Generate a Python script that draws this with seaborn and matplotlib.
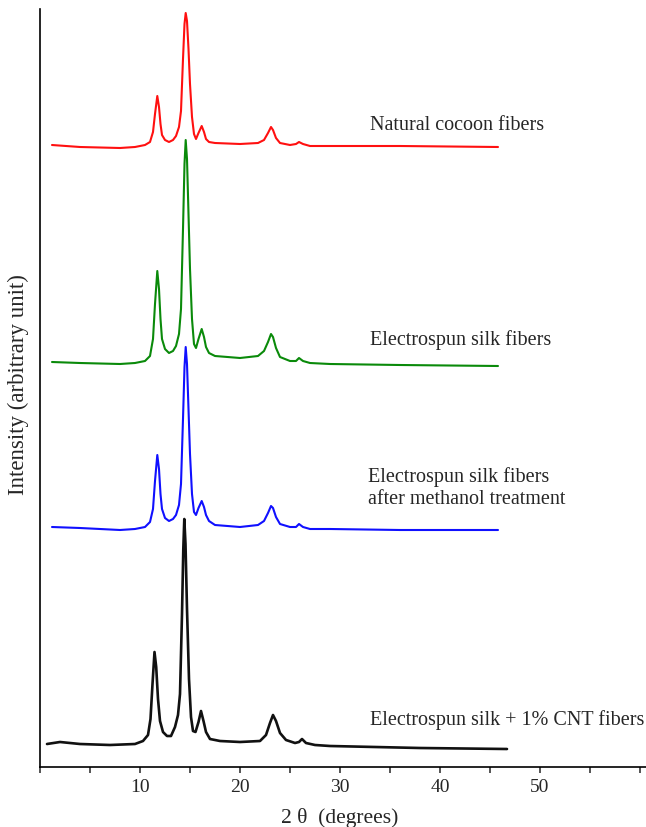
import numpy as np
import pandas as pd
import matplotlib
matplotlib.use("Agg")
import matplotlib.pyplot as plt
from matplotlib.ticker import MultipleLocator
import seaborn as sns

# 2 theta (degrees) and intensities (arbitrary units, traces offset)
silk_x = [1.2, 4.0, 8.0, 9.5, 10.5, 11.0, 11.3, 11.5, 11.73, 11.9,
          12.05, 12.2, 12.5, 12.9, 13.3, 13.6, 13.9, 14.1, 14.3, 14.45,
          14.57, 14.7, 14.85, 15.0, 15.2, 15.4, 15.6, 15.85, 16.17, 16.4,
          16.6, 16.9, 17.5, 20.0, 21.8, 22.4, 22.8, 23.1, 23.3, 23.6,
          24.0, 25.0, 25.6, 25.9, 26.3, 27.0, 29.0, 36.0, 45.8]

cocoon_y = [622, 620, 619, 620, 622, 625, 635, 653, 671, 660,
            643, 632, 627, 625, 627, 631, 640, 656, 708, 743,
            754, 746, 718, 683, 650, 633, 628, 634, 641, 635,
            628, 625, 624, 623, 624, 627, 634, 640, 637, 629,
            624, 622, 623, 625, 623, 621, 621, 621, 620]

spun_y = [405, 404, 403, 404, 406, 411, 428, 463, 496, 478,
          448, 428, 418, 414, 416, 421, 433, 458, 538, 603,
          627, 608, 553, 498, 448, 423, 419, 428, 438, 430,
          420, 414, 411, 409, 411, 416, 425, 433, 430, 419,
          410, 406, 406, 409, 406, 404, 403, 402, 401]

methanol_y = [240, 239, 237, 238, 240, 245, 258, 286, 312, 298,
              273, 258, 249, 246, 248, 252, 262, 283, 348, 400,
              420, 403, 358, 313, 273, 255, 252, 259, 266, 260,
              252, 246, 242, 240, 242, 246, 254, 261, 259, 250,
              243, 240, 240, 243, 240, 238, 238, 237, 237]

cnt_x = [0.7, 2.0, 4.0, 7.0, 9.5, 10.3, 10.8, 11.05, 11.25, 11.45,
         11.62, 11.8, 12.0, 12.3, 12.7, 13.1, 13.5, 13.8, 14.0, 14.2,
         14.33, 14.43, 14.55, 14.7, 14.9, 15.1, 15.3, 15.55, 15.85, 16.1,
         16.35, 16.6, 17.0, 18.0, 20.0, 22.0, 22.6, 23.0, 23.3, 23.6,
         24.0, 24.6, 25.5, 25.9, 26.2, 26.6, 27.5, 29.0, 38.0, 46.7]
cnt_y = [23, 25, 23, 22, 23, 26, 32, 48, 83, 115,
         100, 68, 46, 35, 31, 31, 40, 52, 73, 153,
         218, 248, 223, 158, 88, 50, 36, 35, 45, 56,
         46, 35, 28, 26, 25, 26, 32, 44, 52, 46,
         34, 27, 24, 25, 28, 24, 22, 21, 19, 18]

labels = ["Natural cocoon fibers",
          "Electrospun silk fibers",
          "Electrospun silk fibers\nafter methanol treatment",
          "Electrospun silk + 1% CNT fibers"]

sns.set_style("ticks")
plt.rcParams["font.family"] = ["Liberation Serif", "DejaVu Serif"]

fig = plt.figure(figsize=(6.46, 8.28), dpi=100)
ax = fig.add_axes([40 / 646, 60 / 828, 606 / 646, 758 / 828])

traces = [(silk_x, cocoon_y, "#ff1010", 1.5),
          (silk_x, spun_y, "#0a8a0a", 1.5),
          (silk_x, methanol_y, "#1010ff", 1.5),
          (cnt_x, cnt_y, "#111111", 1.9)]
for xs, ys, c, lw in traces:
    df = pd.DataFrame({"x": xs, "y": ys})
    sns.lineplot(data=df, x="x", y="y", color=c, linewidth=lw, sort=False,
                 estimator=None, ax=ax)

text_pos = [(33.0, 643), (33.0, 428), (32.8, 280), (33.0, 48)]
for (tx, ty), lab in zip(text_pos, labels):
    ax.text(tx, ty, lab, fontsize=14.5, ha="left", va="center", linespacing=1.15)

ax.set_xlim(0, 60.6)
ax.set_ylim(0, 758)
ax.set_yticks([])
ax.xaxis.set_minor_locator(MultipleLocator(5))
ax.set_xticks([10, 20, 30, 40, 50])
ax.tick_params(axis="x", which="both", direction="out", length=4, width=1.1,
               labelsize=14, pad=4)
ax.set_xlabel("")
ax.set_ylabel("")
for s in ["top", "right"]:
    ax.spines[s].set_visible(False)
for s in ["left", "bottom"]:
    ax.spines[s].set_linewidth(1.2)
    ax.spines[s].set_color("black")

fig.text(340 / 646, 1 - 818 / 828, "2 θ  (degrees)", fontsize=15.5, ha="center", va="center")
fig.text(18 / 646, 1 - 385 / 828, "Intensity (arbitrary unit)", fontsize=16.5,
         ha="center", va="center", rotation=90)

fig.savefig("out.png", dpi=100)
